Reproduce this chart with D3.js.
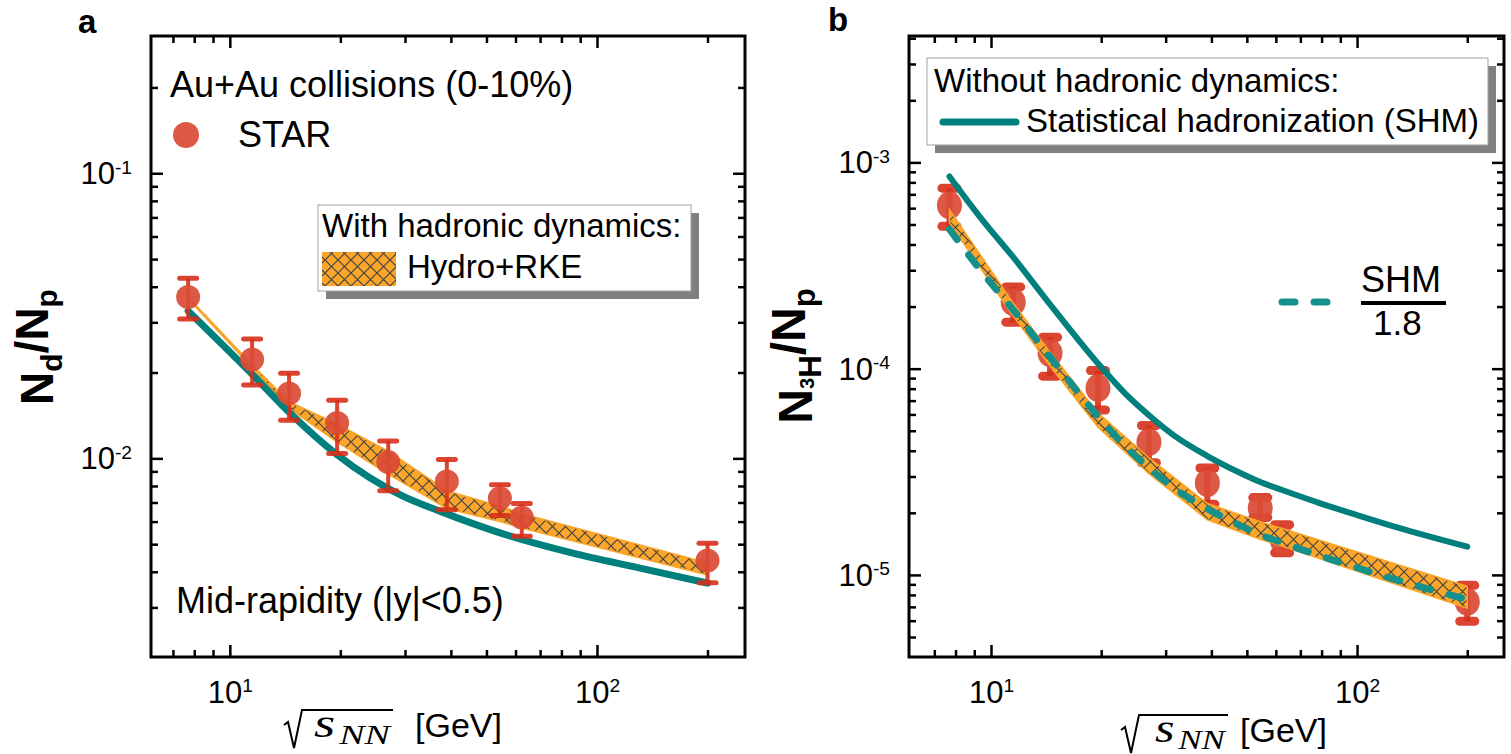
<!DOCTYPE html>
<html>
<head>
<meta charset="utf-8">
<script src="https://cdn.jsdelivr.net/npm/d3@7"></script>
<style>
  body { margin: 0; background: #fff; }
  svg { font-family: "Liberation Sans", Arial, sans-serif; }
</style>
</head>
<body>
<svg id="chart"></svg>
<script>
// collision energies (GeV) of the STAR points
const energies = [7.7, 11.5, 14.5, 19.6, 27, 39, 54.4, 62.4, 200];

// panel a: N_d / N_p
const dRatio = [0.0368, 0.0222, 0.0169, 0.0133, 0.0097, 0.0083, 0.00724, 0.0062, 0.00438];
const dErrHi = [0.0428, 0.0262, 0.0199, 0.0160, 0.0115, 0.0099, 0.00808, 0.00695, 0.00504];
const dErrLo = [0.0308, 0.0181, 0.0136, 0.0104, 0.0077, 0.0066, 0.0063, 0.00533, 0.00366];
const hydroDLo = [0.0362, 0.0208, 0.0150, 0.0114, 0.0088, 0.00667, 0.0060, 0.0057, 0.0039];
const hydroDHi = [0.0368, 0.0213, 0.0158, 0.0132, 0.0106, 0.0077, 0.0068, 0.0064, 0.0043];
// SHM curve for deuterons
const shmEd = [7.7, 11.3, 14.6, 19.6, 29.6, 37.3, 56.9, 86, 131, 200];
const shmD = [0.0329, 0.0202, 0.0144, 0.0103, 0.00737, 0.00653, 0.00538, 0.00465, 0.00412, 0.00365];

// panel b: N_3H / N_p
const tRatio = [6.19e-4, 2.1e-4, 1.19e-4, 8.05e-5, 4.4e-5, 2.79e-5, 2.11e-5, 1.48e-5, 7.4e-6];
const tErrHi = [7.5e-4, 2.49e-4, 1.42e-4, 9.8e-5, 5.3e-5, 3.3e-5, 2.37e-5, 1.75e-5, 8.9e-6];
const tErrLo = [4.9e-4, 1.68e-4, 9.2e-5, 6.3e-5, 3.5e-5, 2.2e-5, 1.9e-5, 1.28e-5, 5.96e-6];
const hydroTLo = [5.1e-4, 1.8e-4, 1.03e-4, 5.2e-5, 3.1e-5, 1.85e-5, 1.49e-5, 1.38e-5, 6.9e-6];
const hydroTHi = [5.9e-4, 2.08e-4, 1.2e-4, 6.1e-5, 3.7e-5, 2.22e-5, 1.81e-5, 1.68e-5, 8.8e-6];
// SHM curve for triton (dashed = SHM / 1.8)
const shmEt = [7.7, 9.3, 11.5, 14.5, 19.6, 23.2, 27, 31.8, 39, 48, 54.4, 62.4, 79, 100, 130, 200];
const shmT = [8.55e-4, 5.48e-4, 3.47e-4, 2.05e-4, 1.06e-4, 7.61e-5, 5.95e-5, 4.71e-5, 3.77e-5,
              3.12e-5, 2.82e-5, 2.58e-5, 2.23e-5, 1.95e-5, 1.69e-5, 1.37e-5];
const shmScale = 1.8;

// ticks
const xMajor = [10, 100];
const xMinor = [7, 8, 9, 20, 30, 40, 50, 60, 70, 80, 90, 200];
const yMajorA = [0.01, 0.1];
const yMinorA = [0.003, 0.004, 0.005, 0.006, 0.007, 0.008, 0.009, 0.02, 0.03, 0.04, 0.05, 0.06, 0.07, 0.08, 0.09, 0.2];
const yMajorB = [1e-5, 1e-4, 1e-3];
const yMinorB = [5e-6, 6e-6, 7e-6, 8e-6, 9e-6, 2e-5, 3e-5, 4e-5, 5e-5, 6e-5, 7e-5, 8e-5, 9e-5,
                 2e-4, 3e-4, 4e-4, 5e-4, 6e-4, 7e-4, 8e-4, 9e-4, 2e-3, 3e-3, 4e-3];

const W = 1511, H = 754;
const TEAL = '#00807d';
const DASH = '#16908b';
const ORANGE = '#fba52a';
const MARK = '#db4b35';
const ERR = '#d6301a';

const svg = d3.select('#chart').attr('width', W).attr('height', H);

//hatch pattern for the Hydro+RKE band
const defs = svg.append('defs');
const pat = defs.append('pattern')
  .attr('id', 'hatch')
  .attr('patternUnits', 'userSpaceOnUse')
  .attr('width', 13).attr('height', 13);
pat.append('rect').attr('width', 13).attr('height', 13).attr('fill', ORANGE);
pat.append('path').attr('d', 'M0,0 L13,13 M13,0 L0,13')
  .attr('stroke', '#444').attr('stroke-width', 1.2);

function powLabel(sel) {
  sel.each(function(d) {
    const t = d3.select(this).text(null);
    t.append('tspan').text('10');
    t.append('tspan').attr('dy', '-0.55em').attr('font-size', '0.62em')
      .text(Math.round(Math.log10(d)));
  });
}

function drawPanel(p) {
  const x = d3.scaleLog().domain(p.xDomain).range([p.left, p.right]);
  const y = d3.scaleLog().domain(p.yDomain).range([p.bottom, p.top]);
  const g = svg.append('g');

  //band
  const band = d3.area()
    .x((d, i) => x(energies[i]))
    .y0((d, i) => y(p.bandLo[i]))
    .y1((d, i) => y(p.bandHi[i]));

  //markers + error bars
  function drawPoints() {
    const pts = g.append('g').selectAll('g')
      .data(energies)
      .enter()
      .append('g');
    pts.append('line')
      .attr('x1', d => x(d)).attr('x2', d => x(d))
      .attr('y1', (d, i) => y(p.errHi[i])).attr('y2', (d, i) => y(p.errLo[i]))
      .attr('stroke', ERR).attr('stroke-width', p.barW).attr('opacity', 0.9);
    [p.errHi, p.errLo].forEach(arr => {
      pts.append('line')
        .attr('x1', d => x(d) - p.capLen / 2).attr('x2', d => x(d) + p.capLen / 2)
        .attr('y1', (d, i) => y(arr[i])).attr('y2', (d, i) => y(arr[i]))
        .attr('stroke', ERR).attr('stroke-width', p.capW)
        .attr('stroke-linecap', 'round').attr('opacity', 0.9);
    });
    pts.append('ellipse')
      .attr('cx', d => x(d))
      .attr('cy', (d, i) => y(p.ratio[i]))
      .attr('rx', p.r).attr('ry', p.ry)
      .attr('fill', MARK).attr('opacity', 0.92);
  }

  if (!p.pointsOnTop) drawPoints();

  g.append('path')
    .attr('d', band(energies))
    .attr('fill', 'url(#hatch)')
    .attr('stroke', ORANGE).attr('stroke-width', 1.5);

  const line = d3.line()
    .x((d, i) => x(p.shmE[i]))
    .y(d => y(d))
    .curve(d3.curveMonotoneX);

  if (p.dashed) {
    g.append('path')
      .attr('d', line(p.shm.map(v => v / shmScale)))
      .attr('fill', 'none')
      .attr('stroke', DASH).attr('stroke-width', 7)
      .attr('stroke-dasharray', '13 19').attr('stroke-linecap', 'round');
  }

  g.append('path')
    .attr('d', line(p.shm))
    .attr('fill', 'none')
    .attr('stroke', TEAL).attr('stroke-width', p.lineW)
    .attr('stroke-linecap', 'round');

  if (p.pointsOnTop) drawPoints();

  //axes, ticks pointing inward on all sides
  const addAxis = (axis, tr, vals, size, labels) => {
    const a = g.append('g').attr('transform', tr)
      .call(axis.tickValues(vals).tickSizeInner(-size).tickSizeOuter(0)
        .tickFormat(labels ? d => d : () => ''));
    a.select('.domain').remove();
    a.selectAll('line').attr('stroke', '#000').attr('stroke-width', 2.5);
    return a;
  };
  const xb = addAxis(d3.axisBottom(x), `translate(0,${p.bottom})`, xMajor, 12, true);
  xb.selectAll('text').attr('font-size', 31).attr('fill', '#000')
    .attr('y', 46).attr('dy', null).call(powLabel);
  addAxis(d3.axisBottom(x), `translate(0,${p.bottom})`, xMinor, 7, false);
  addAxis(d3.axisTop(x), `translate(0,${p.top})`, xMajor, 12, false);
  addAxis(d3.axisTop(x), `translate(0,${p.top})`, xMinor, 7, false);

  const yl = addAxis(d3.axisLeft(y), `translate(${p.left},0)`, p.yMajor, 12, true);
  yl.selectAll('text').attr('font-size', 31).attr('fill', '#000')
    .attr('x', -19).attr('dy', '0.34em').call(powLabel);
  addAxis(d3.axisLeft(y), `translate(${p.left},0)`, p.yMinor, 7, false);
  addAxis(d3.axisRight(y), `translate(${p.right},0)`, p.yMajor, 12, false);
  addAxis(d3.axisRight(y), `translate(${p.right},0)`, p.yMinor, 7, false);

  g.append('rect')
    .attr('x', p.left).attr('y', p.top)
    .attr('width', p.right - p.left).attr('height', p.bottom - p.top)
    .attr('fill', 'none').attr('stroke', '#000').attr('stroke-width', 3);

  //x title: sqrt(s_NN) [GeV]
  const xt = g.append('g').attr('transform', `translate(${p.xTitleX},${p.xTitleY})`);
  const st = xt.append('text').attr('x', p.sOff).attr('y', 0)
    .attr('font-family', '"Liberation Serif", "DejaVu Serif", serif')
    .attr('font-style', 'italic').attr('font-size', 40)
    .attr('textLength', p.sWidth).attr('lengthAdjust', 'spacingAndGlyphs');
  st.append('tspan').text('s');
  st.append('tspan').attr('dx', 3).attr('dy', 7).attr('font-size', 28).text('NN');
  const overEnd = p.sOff + p.sWidth + 3;
  xt.append('path')
    .attr('d', `M0,-12 L4,-15 L10,11 L18,-27 L${overEnd},-27`)
    .attr('fill', 'none').attr('stroke', '#000').attr('stroke-width', 2);
  xt.append('text').attr('x', overEnd + p.gevGap).attr('y', 0)
    .attr('font-size', 34).text('[GeV]');

  //y title
  const yt = g.append('text')
    .attr('transform', `translate(${p.yTitleX},${p.yTitleY}) rotate(-90)`)
    .attr('text-anchor', 'middle')
    .attr('font-weight', 'bold').attr('font-size', p.yTitleSize);
  p.yTitle(yt);

  //panel letter
  g.append('text').attr('x', p.letterX).attr('y', p.letterY)
    .attr('font-weight', 'bold').attr('font-size', 33).text(p.letter);

  return g;
}

function legendBox(g, x0, y0, x1, y1) {
  g.append('rect').attr('x', x0 + 8).attr('y', y0 + 8)
    .attr('width', x1 - x0).attr('height', y1 - y0).attr('fill', '#808080');
  g.append('rect').attr('x', x0).attr('y', y0)
    .attr('width', x1 - x0).attr('height', y1 - y0)
    .attr('fill', '#fff').attr('stroke', '#a0a0a0').attr('stroke-width', 1);
}

//Panel a
const ga = drawPanel({
  left: 151, right: 745, top: 36, bottom: 657,
  xDomain: [6.1, 253], yDomain: [0.00201, 0.303],
  yMajor: yMajorA, yMinor: yMinorA,
  ratio: dRatio, errHi: dErrHi, errLo: dErrLo,
  bandLo: hydroDLo, bandHi: hydroDHi, shmE: shmEd, shm: shmD,
  dashed: false, pointsOnTop: true,
  r: 12, ry: 12, barW: 4, capW: 5, capLen: 17, lineW: 7,
  xTitleX: 284, xTitleY: 737, sOff: 30, sWidth: 76, gevGap: 22,
  yTitleX: 53, yTitleY: 347, yTitleSize: 46,
  yTitle: t => {
    t.append('tspan').text('N');
    t.append('tspan').attr('dy', '0.3em').attr('font-size', '0.65em').text('d');
    t.append('tspan').attr('dy', '-0.3em').text('/N');
    t.append('tspan').attr('dy', '0.3em').attr('font-size', '0.65em').text('p');
  },
  letter: 'a', letterX: 78, letterY: 33
});

ga.append('text').attr('x', 170).attr('y', 97).attr('font-size', 36)
  .text('Au+Au collisions (0-10%)');
ga.append('circle').attr('cx', 186).attr('cy', 135).attr('r', 13)
  .attr('fill', MARK).attr('opacity', 0.92);
ga.append('text').attr('x', 238).attr('y', 147).attr('font-size', 36).text('STAR');
legendBox(ga, 318, 205, 691, 291);
ga.append('text').attr('x', 322).attr('y', 237).attr('font-size', 33)
  .text('With hadronic dynamics:');
ga.append('rect').attr('x', 322).attr('y', 252).attr('width', 74).attr('height', 34)
  .attr('fill', 'url(#hatch)');
ga.append('text').attr('x', 407).attr('y', 278).attr('font-size', 33).text('Hydro+RKE');
ga.append('text').attr('x', 176).attr('y', 613).attr('font-size', 36)
  .text('Mid-rapidity (|y|<0.5)');

//Panel b
const gb = drawPanel({
  left: 909, right: 1504, top: 36, bottom: 657,
  xDomain: [5.97, 252], yDomain: [4.0e-6, 4.1e-3],
  yMajor: yMajorB, yMinor: yMinorB,
  ratio: tRatio, errHi: tErrHi, errLo: tErrLo,
  bandLo: hydroTLo, bandHi: hydroTHi, shmE: shmEt, shm: shmT,
  dashed: true, pointsOnTop: false,
  r: 12.5, ry: 14, barW: 6, capW: 9, capLen: 15, lineW: 6,
  xTitleX: 1121, xTitleY: 742, sOff: 34, sWidth: 70, gevGap: 12,
  yTitleX: 812, yTitleY: 356, yTitleSize: 48,
  yTitle: t => {
    t.append('tspan').text('N');
    t.append('tspan').attr('dy', '0.12em').attr('font-size', '0.42em').text('3');
    t.append('tspan').attr('dy', '0.2em').attr('font-size', '0.65em').text('H');
    t.append('tspan').attr('dy', '-0.32em').text('/N');
    t.append('tspan').attr('dy', '0.3em').attr('font-size', '0.65em').text('p');
  },
  letter: 'b', letterX: 828, letterY: 31
});

legendBox(gb, 927, 58, 1488, 145);
gb.append('text').attr('x', 934).attr('y', 92).attr('font-size', 33)
  .text('Without hadronic dynamics:');
gb.append('line').attr('x1', 943).attr('x2', 1016).attr('y1', 122).attr('y2', 122)
  .attr('stroke', TEAL).attr('stroke-width', 7).attr('stroke-linecap', 'round');
gb.append('text').attr('x', 1026).attr('y', 132).attr('font-size', 33)
  .text('Statistical hadronization (SHM)');

gb.append('line').attr('x1', 1282).attr('x2', 1335).attr('y1', 302).attr('y2', 302)
  .attr('stroke', DASH).attr('stroke-width', 7)
  .attr('stroke-dasharray', '13 19').attr('stroke-linecap', 'round');
gb.append('text').attr('x', 1361).attr('y', 292).attr('font-size', 36).text('SHM');
gb.append('line').attr('x1', 1361).attr('x2', 1446).attr('y1', 303).attr('y2', 303)
  .attr('stroke', '#000').attr('stroke-width', 4);
gb.append('text').attr('x', 1373).attr('y', 335).attr('font-size', 35).text('1.8');
</script>
</body>
</html>
